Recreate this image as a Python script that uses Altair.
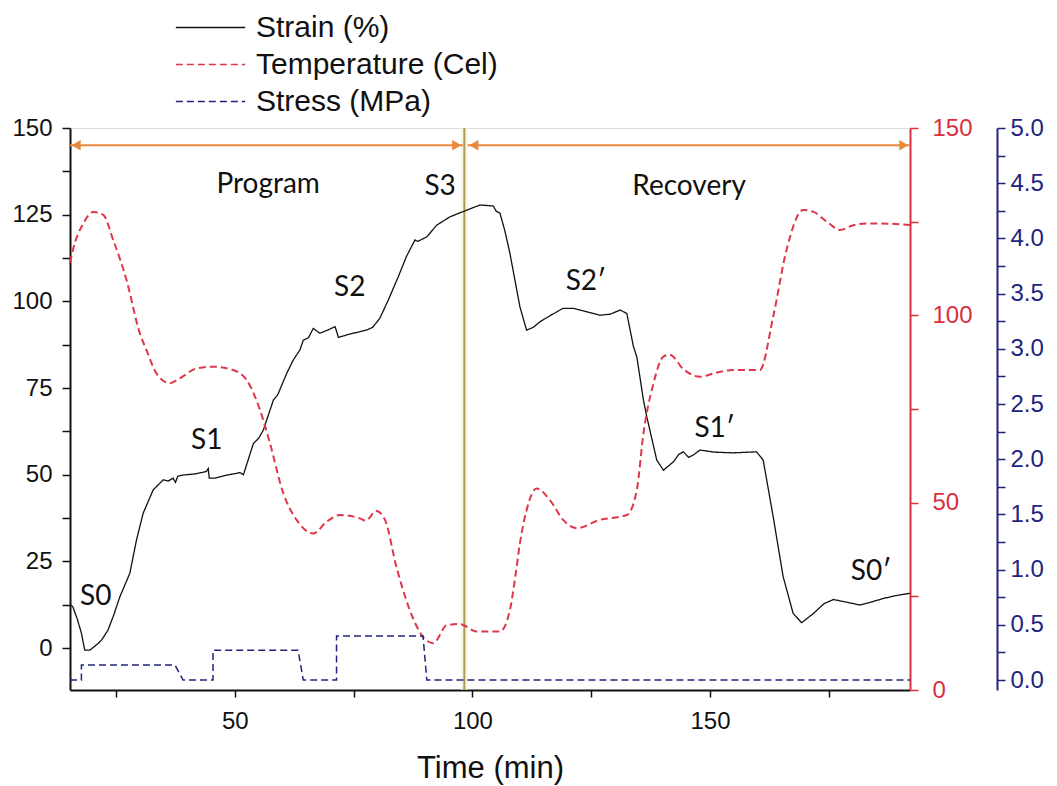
import altair as alt
import pandas as pd

# ---------------- data ----------------
strain_t = [15.4, 15.9, 16.8, 17.7, 18.4, 19.5, 20.3, 21.2, 22.0, 23.3, 24.5, 25.8, 27.9, 29.3, 30.7,
            32.8, 34.9, 36.0, 37.0, 37.5, 38.0, 39.1, 41.5, 44.0, 44.4, 44.6, 45.8, 48.0, 50.0, 51.1,
            51.8, 52.5, 53.9, 55.0, 56.0, 58.1, 59.0, 60.9, 62.3, 63.7, 64.4, 65.5, 66.5, 67.9, 69.5,
            71.1, 71.8, 74.0, 77.7, 79.0, 80.5, 82.3, 84.4, 86.1, 87.9, 88.5, 90.4, 92.5, 95.3, 98.8,
            101.6, 104.4, 105.0, 105.8, 106.8, 107.9, 110.0, 111.4, 112.8, 114.2, 116.5, 119.1, 121.2,
            124.0, 126.8, 129.0, 131.1, 132.5, 133.9, 134.6, 136.0, 136.7, 138.8, 140.2, 142.3, 143.4,
            144.4, 145.5, 146.5, 147.9, 151.0, 154.9, 159.8, 161.2, 163.3, 165.4, 167.5, 169.3, 171.8,
            174.0, 176.0, 178.5, 181.6, 184.0, 186.5, 189.0, 192.1]
strain_v = [12.5, 11.9, 8.5, 4.3, -0.6, -0.6, 0.3, 1.3, 2.4, 5.2, 9.5, 14.8, 21.6, 31.2, 38.9,
            45.6, 48.5, 48.2, 49.0, 47.8, 49.6, 49.9, 50.2, 50.9, 51.8, 49.0, 49.0, 49.8, 50.3, 50.6,
            50.0, 53.0, 59.0, 60.5, 62.9, 71.5, 73.0, 79.2, 83.1, 86.0, 88.8, 89.5, 92.2, 90.8, 91.7,
            92.7, 89.6, 90.5, 91.7, 92.5, 95.1, 100.4, 107.1, 112.9, 117.7, 117.3, 118.6, 122.0, 124.4, 126.3,
            127.8, 127.5, 126.0, 125.4, 120.5, 113.8, 98.4, 91.7, 92.5, 94.1, 96.0, 98.0, 98.0,
            97.0, 96.0, 96.3, 97.5, 96.5, 86.9, 84.0, 71.5, 66.7, 54.2, 51.3, 53.7, 55.8,
            56.6, 55.0, 55.7, 57.1, 56.5, 56.3, 56.6, 54.2, 37.9, 20.6, 10.0, 7.3, 10.0,
            12.8, 14.0, 13.3, 12.4, 13.3, 14.3, 15.1, 15.8]

temp_t = [15.3, 15.9, 18.1, 20.2, 22.3, 24.4, 27.2, 30.0, 31.4, 33.5, 36.3, 38.4, 41.9, 45.4, 49.6,
          52.5, 55.3, 57.4, 60.2, 63.0, 66.5, 69.3, 72.1, 76.3, 77.5, 79.8, 81.6, 84.0, 86.8, 89.6,
          91.8, 94.6, 97.4, 100.9, 105.8, 107.9, 109.0, 110.0, 111.4, 113.5, 116.3, 119.1, 121.9, 126.8,
          132.5, 134.6, 136.0, 138.1, 140.2, 141.5, 144.5, 147.9, 151.0, 154.9, 160.5, 163.3, 166.1,
          169.6, 171.8, 174.6, 177.4, 180.0, 183.0, 186.0, 192.1]
temp_v = [114.0, 117.4, 124.5, 127.6, 126.8, 120.1, 109.4, 95.2, 90.7, 84.5, 81.9, 83.2, 85.8, 86.3, 85.4,
          82.7, 74.7, 65.8, 52.5, 45.4, 41.8, 44.9, 46.7, 45.8, 45.2, 47.8, 45.4, 32.9, 21.4, 14.2,
          12.5, 17.3, 17.6, 15.6, 15.6, 21.4, 30.0, 39.2, 48.0, 53.8, 50.7, 45.4, 43.2, 45.4,
          46.7, 53.4, 68.5, 81.8, 89.0, 89.5, 85.5, 83.6, 84.6, 85.4, 85.4, 99.6, 117.4,
          128.1, 127.6, 125.0, 122.8, 124.0, 124.5, 124.5, 124.1]

stress_t = [15.3, 17.7, 17.7, 37.4, 39.1, 45.4, 45.4, 63.3, 64.4, 71.4, 71.4, 89.6, 90.4, 192.1]
stress_v = [0.0, 0.0, 0.136, 0.136, 0.0, 0.0, 0.27, 0.27, 0.0, 0.0, 0.40, 0.40, 0.0, 0.0]

label_text = ["Program", "S3", "Recovery", "S2", "S2\u2032", "S1", "S1\u2032", "S0", "S0\u2032"]
label_t = [57.0, 93.2, 145.6, 74.2, 123.9, 44.1, 151.0, 20.7, 183.9]
label_s = [133.5, 133.0, 133.0, 103.8, 105.6, 59.7, 63.2, 14.6, 21.9]

arrow_start = [15.3, 99.0]
arrow_end = [98.0, 192.1]
arrow_level = 145.0
head_t = [16.6, 96.7, 100.3, 190.8]
head_shape = ["triangle-left", "triangle-right", "triangle-left", "triangle-right"]
divider_t = [98.3]

series_names = ["Strain (%)", "Temperature (Cel)", "Stress (MPa)"]
series_colors = ["#111111", "#e0364a", "#23237f"]
series_dash = [[1, 0], [7, 4], [7, 4]]

T_DOMAIN = [15.3, 192.1]
S_DOMAIN = [-12.1, 150]
TEMP_DOMAIN = [0, 150]
STRESS_DOMAIN = [-0.09, 5.0]

FONT = "Liberation Sans"
ANN_FONT = "Lato"
TICK_FS = 24

# ---------------- tables ----------------
strain_df = pd.DataFrame({"t": strain_t, "v": strain_v, "series": series_names[0]})
temp_df = pd.DataFrame({"t": temp_t, "v": temp_v, "series": series_names[1]})
stress_df = pd.DataFrame({"t": stress_t, "v": stress_v, "series": series_names[2]})
label_df = pd.DataFrame({"t": label_t, "v": label_s, "label": label_text})
arrow_df = pd.DataFrame({"t": arrow_start, "t2": arrow_end, "v": [arrow_level] * 2})
head_df = pd.DataFrame({"t": head_t, "v": [arrow_level] * 4, "shape": head_shape})
div_df = pd.DataFrame({"t": divider_t})

x_axis = alt.Axis(
    title="Time (min)", values=[25, 50, 75, 100, 125, 150, 175],
    labelExpr="datum.value % 50 == 0 ? datum.label : ''",
    grid=False, domainColor="#111", domainWidth=2, tickColor="#111", tickWidth=1.5, tickSize=7,
    labelFont=FONT, labelFontSize=TICK_FS, labelColor="#111", labelPadding=12,
    titleFont=FONT, titleFontSize=31, titleFontWeight="normal", titleColor="#111", titlePadding=20,
)
x_enc = alt.X("t:Q", scale=alt.Scale(domain=T_DOMAIN, nice=False, zero=False), axis=x_axis)

y_axis = alt.Axis(
    title=None, values=[i * 12.5 for i in range(0, 13)],
    labelExpr="datum.value % 25 == 0 ? datum.label : ''",
    grid=False, domainColor="#111", domainWidth=2, tickColor="#111", tickWidth=1.5, tickSize=8,
    labelFont=FONT, labelFontSize=TICK_FS, labelColor="#111", labelPadding=10,
)
y_scale = alt.Scale(domain=S_DOMAIN, nice=False, zero=False)

legend_kw = dict(title=None, orient="none", legendX=105, legendY=-119,
                 symbolType="stroke", symbolSize=4800, symbolStrokeWidth=1.5,
                 labelFont=FONT, labelFontSize=30, labelColor="#111", labelLimit=0,
                 clipHeight=37, rowPadding=0, labelOffset=10)
color_enc = alt.Color("series:N", scale=alt.Scale(domain=series_names, range=series_colors),
                      legend=alt.Legend(**legend_kw))
dash_enc = alt.StrokeDash("series:N", scale=alt.Scale(domain=series_names, range=series_dash),
                          legend=alt.Legend(**legend_kw))

strain_line = alt.Chart(strain_df).mark_line(strokeWidth=1.3).encode(
    x=x_enc, y=alt.Y("v:Q", scale=y_scale, axis=y_axis), color=color_enc, strokeDash=dash_enc)

glow = alt.Chart(div_df).mark_rule(color="#f6f2d2", strokeWidth=7, opacity=0.6).encode(x=x_enc)
divider = alt.Chart(div_df).mark_rule(color="#a89c58", strokeWidth=2).encode(x=x_enc)

arrows = alt.Chart(arrow_df).mark_rule(color="#e8883a", strokeWidth=2).encode(
    x=x_enc, x2="t2:Q", y=alt.Y("v:Q", scale=y_scale, axis=y_axis))
heads = alt.Chart(head_df).mark_point(filled=True, color="#e8883a", size=110, opacity=1).encode(
    x=x_enc, y=alt.Y("v:Q", scale=y_scale, axis=y_axis),
    shape=alt.Shape("shape:N", scale=None))

labels = alt.Chart(label_df).mark_text(font=ANN_FONT, fontSize=28, color="#111").encode(
    x=x_enc, y=alt.Y("v:Q", scale=y_scale, axis=y_axis), text="label:N")

strain_group = alt.layer(glow, divider, arrows, heads, strain_line, labels)

temp_line = alt.Chart(temp_df).mark_line(strokeWidth=2, interpolate="monotone").encode(
    x=x_enc,
    y=alt.Y("v:Q", scale=alt.Scale(domain=TEMP_DOMAIN, nice=False),
            axis=alt.Axis(orient="right", title=None, values=[0, 25, 50, 75, 100, 125, 150],
                          labelExpr="datum.value % 50 == 0 ? datum.label : ''",
                          grid=False, domainColor="#d8303f", domainWidth=2, tickColor="#d8303f",
                          tickWidth=1.5, tickSize=8, labelFont=FONT, labelFontSize=TICK_FS,
                          labelColor="#d8303f", labelPadding=14)),
    color=color_enc, strokeDash=dash_enc)

stress_line = alt.Chart(stress_df).mark_line(strokeWidth=1.5).encode(
    x=x_enc,
    y=alt.Y("v:Q", scale=alt.Scale(domain=STRESS_DOMAIN, nice=False, zero=False),
            axis=alt.Axis(orient="right", offset=87, title=None, values=[i * 0.25 for i in range(0, 21)],
                          labelExpr="(round(datum.value*100) % 50 == 0) ? format(datum.value, '.1f') : ''",
                          grid=False, domainColor="#23237f", domainWidth=2, tickColor="#23237f",
                          tickWidth=1.5, tickSize=8, labelFont=FONT, labelFontSize=TICK_FS,
                          labelColor="#23237f", labelPadding=5)),
    color=color_enc, strokeDash=dash_enc)

chart = alt.layer(strain_group, temp_line, stress_line).resolve_scale(
    y="independent"
).properties(
    width=840, height=562,
    padding={"left": 62, "top": 120, "right": 139, "bottom": 96},
    autosize=alt.AutoSizeParams(type="none"),
).configure_view(stroke=None).configure(background="white")

chart.save("out.html", embed_options={"renderer": "svg", "actions": False})
